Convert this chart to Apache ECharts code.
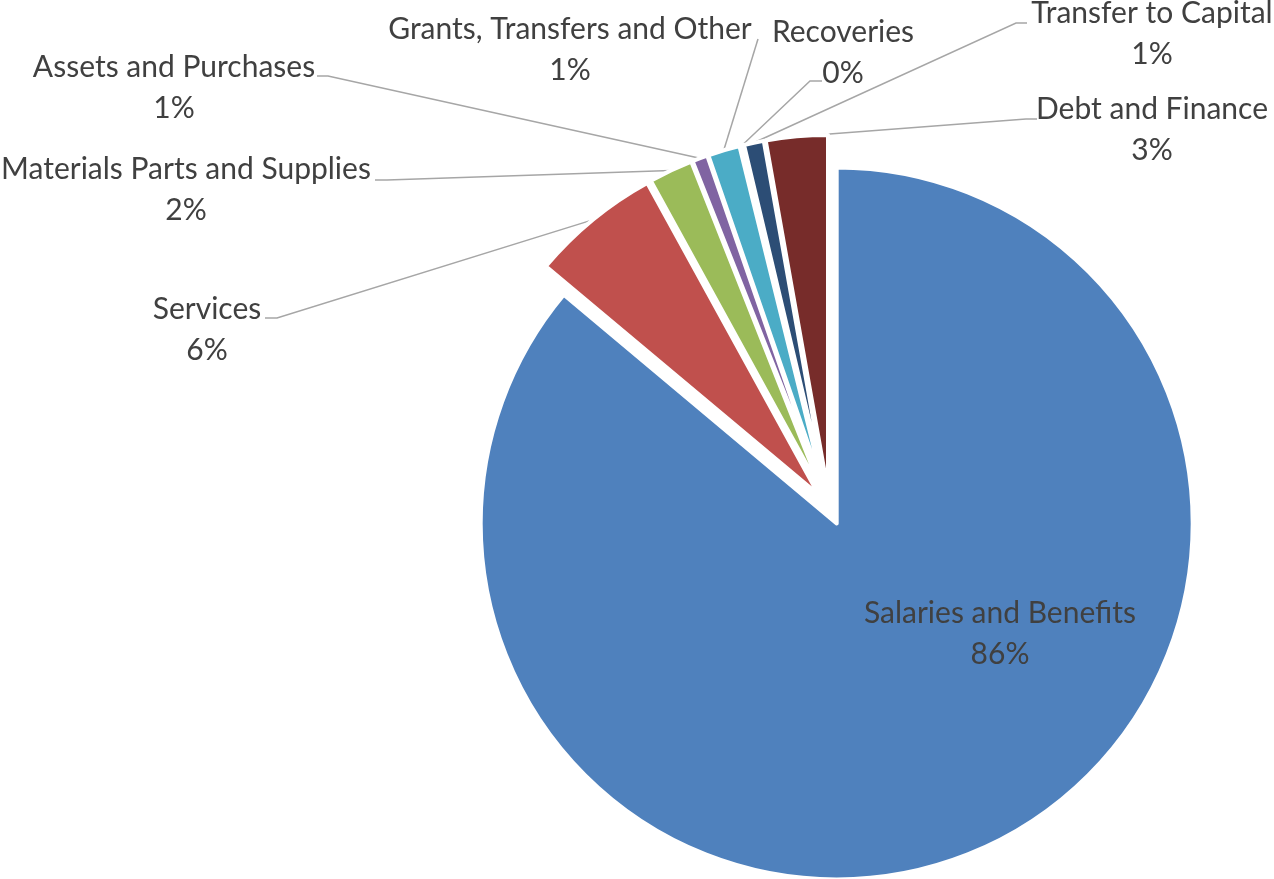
<!DOCTYPE html>
<html>
<head>
<meta charset="utf-8">
<script src="https://cdn.jsdelivr.net/npm/echarts@6.0.0/dist/echarts.min.js"></script>
<style>
  html, body { margin: 0; padding: 0; background: #fff; }
  #chart { width: 1274px; height: 879px; }
</style>
</head>
<body>
<div id="chart"></div>
<script>
  const categories = ['Salaries and Benefits', 'Services', 'Materials Parts and Supplies', 'Assets and Purchases',
    'Grants, Transfers and Other', 'Recoveries', 'Transfer to Capital', 'Debt and Finance'];
  const shares = [86.1, 5.9, 2.0, 0.7, 1.45, 0.15, 0.9, 2.8];
  const sliceColors = ['#4F81BD', '#C0504D', '#9BBB59', '#8064A2', '#4BACC6', '#F79646', '#2C4D75', '#772C2A'];
  // where each label block is centred, same order as categories
  const labelCenters = [[1000, 634], [207, 330], [186, 190], [174, 88], [570, 50], [843, 53], [1152, 34], [1152, 130]];
  // where the leader line meets the label, and the short horizontal elbow before it
  const leaderEnds = [null, [265, 318], [375, 180], [317, 76], [758, 39], [822, 81], [1027, 23], [1037, 119]];
  const elbow = [0, 12, 12, 11, 0, -12, -11, -11];

  const pieCenter = [829.5, 508];
  const pieRadius = 356;
  const explode = 17;

  const chart = echarts.init(document.getElementById('chart'));
  chart.setOption({
    animation: false,
    color: sliceColors,
    series: [
      {
        // the exploded slices
        type: 'pie',
        center: pieCenter,
        radius: pieRadius,
        startAngle: 90,
        clockwise: true,
        selectedMode: 'multiple',
        selectedOffset: explode,
        itemStyle: { borderColor: '#fff', borderWidth: 4 },
        label: { show: false },
        labelLine: { show: false },
        emphasis: { disabled: true },
        silent: true,
        data: categories.map(function (name, i) {
          return { name: name, value: shares[i], selected: true };
        })
      },
      {
        // same slices, invisible, only carrying labels and leader lines;
        // radius reaches the outer edge of the exploded slices
        type: 'pie',
        center: pieCenter,
        radius: pieRadius + explode,
        startAngle: 90,
        clockwise: true,
        percentPrecision: 0,
        avoidLabelOverlap: false,
        silent: true,
        itemStyle: { color: 'rgba(0,0,0,0)', borderWidth: 0 },
        label: {
          position: 'outside',
          formatter: '{b}\n{d}%',
          fontFamily: 'Lato',
          fontSize: 30,
          lineHeight: 41,
          color: '#404040'
        },
        labelLine: { show: true, length: 10, length2: 12, lineStyle: { color: '#A6A6A6', width: 1.5 } },
        labelLayout: function (p) {
          const i = p.dataIndex;
          const c = labelCenters[i];
          const out = { x: c[0], y: c[1], align: 'center', verticalAlign: 'middle' };
          const end = leaderEnds[i];
          if (end && p.labelLinePoints) {
            const start = p.labelLinePoints[0];
            out.labelLinePoints = [start, [end[0] + elbow[i], end[1]], end];
          }
          return out;
        },
        emphasis: { disabled: true },
        data: categories.map(function (name, i) {
          const item = { name: name, value: shares[i] };
          if (i === 0) item.labelLine = { show: false };
          return item;
        })
      }
    ]
  });
</script>
</body>
</html>
